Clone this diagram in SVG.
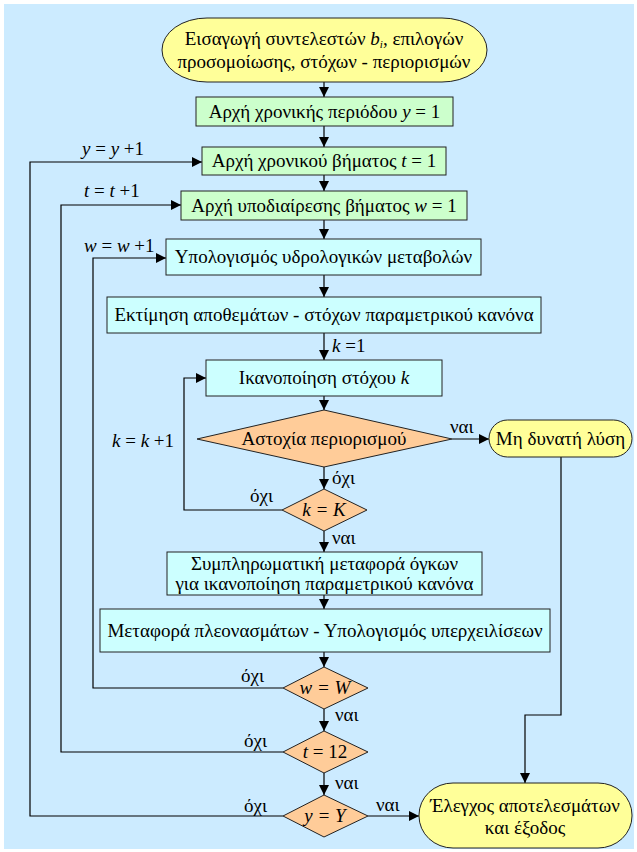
<svg xmlns="http://www.w3.org/2000/svg" width="637" height="852" viewBox="0 0 637 852" font-family="'Liberation Serif', 'Times New Roman', 'DejaVu Serif', serif">
<style>
text{font-family:'Liberation Serif','Times New Roman','DejaVu Serif',serif;font-size:19px;fill:#000}
.c{text-anchor:middle}
.i{font-style:italic}
.box{stroke:#222;stroke-width:1}
.g{fill:#CCFFCC}
.b{fill:#CCFFFF}
.y{fill:#FFFF99}
.o{fill:#FFCC99}
.ln{fill:none;stroke:#000;stroke-width:1.2}
</style>
<defs>
<marker id="ah" markerWidth="10" markerHeight="10" refX="10" refY="5" orient="auto" markerUnits="userSpaceOnUse">
<path d="M0,0 L10,5 L0,10 z" fill="#000"/>
</marker>
</defs>
<rect x="4" y="4" width="630" height="845" fill="#CCEBFF"/>
<g id="connectors">
<path class="ln" d="M324,82 V97" marker-end="url(#ah)"/>
<path class="ln" d="M324,126 V147" marker-end="url(#ah)"/>
<path class="ln" d="M324,175 V191" marker-end="url(#ah)"/>
<path class="ln" d="M324,220 V239" marker-end="url(#ah)"/>
<path class="ln" d="M324,275 V297" marker-end="url(#ah)"/>
<path class="ln" d="M324,333 V360" marker-end="url(#ah)"/>
<path class="ln" d="M324,396 V410" marker-end="url(#ah)"/>
<path class="ln" d="M452,439 H489" marker-end="url(#ah)"/>
<path class="ln" d="M324,467 V489" marker-end="url(#ah)"/>
<path class="ln" d="M282,510 H184 V378 H206" marker-end="url(#ah)"/>
<path class="ln" d="M324,531 V552" marker-end="url(#ah)"/>
<path class="ln" d="M324,595 V609" marker-end="url(#ah)"/>
<path class="ln" d="M324,652 V667" marker-end="url(#ah)"/>
<path class="ln" d="M283,688 H93 V258 H166" marker-end="url(#ah)"/>
<path class="ln" d="M324,709 V731" marker-end="url(#ah)"/>
<path class="ln" d="M283,752 H61 V205 H181" marker-end="url(#ah)"/>
<path class="ln" d="M324,773 V795" marker-end="url(#ah)"/>
<path class="ln" d="M283,816 H30 V162 H202" marker-end="url(#ah)"/>
<path class="ln" d="M368,816 H419" marker-end="url(#ah)"/>
<path class="ln" d="M561,457 V715 H525 V783" marker-end="url(#ah)"/>
<text x="82" y="155"><tspan class="i">y</tspan> = <tspan class="i">y</tspan> +1</text>
<text x="84" y="197"><tspan class="i">t</tspan> = <tspan class="i">t</tspan> +1</text>
<text x="84" y="252"><tspan class="i">w</tspan> = <tspan class="i">w</tspan> +1</text>
<text x="332" y="352"><tspan class="i">k</tspan> =1</text>
<text x="450" y="433">ναι</text>
<text x="112" y="447"><tspan class="i">k</tspan> = <tspan class="i">k</tspan> +1</text>
<text x="332" y="484">όχι</text>
<text x="250" y="502">όχι</text>
<text x="332" y="544">ναι</text>
<text x="241" y="682">όχι</text>
<text x="335" y="721">ναι</text>
<text x="244" y="747">όχι</text>
<text x="335" y="789">ναι</text>
<text x="244" y="812">όχι</text>
<text x="376" y="811">ναι</text>
</g>
<g id="start">
<rect class="box y" x="162" y="18" width="325" height="64" rx="45" ry="32"/>
<text class="c" x="324" y="45">Εισαγωγή συντελεστών <tspan class="i">b</tspan><tspan class="i" font-size="11" dy="3">i</tspan><tspan dy="-3">, επιλογών</tspan></text>
<text class="c" x="324" y="68">προσομοίωσης, στόχων - περιορισμών</text>
</g>
<g id="period">
<rect class="box g" x="196" y="97" width="257" height="29"/>
<text class="c" x="324.5" y="118">Αρχή χρονικής περιόδου <tspan class="i">y</tspan> = 1</text>
</g>
<g id="step">
<rect class="box g" x="202" y="147" width="244" height="28"/>
<text class="c" x="324" y="167">Αρχή χρονικού βήματος <tspan class="i">t</tspan> = 1</text>
</g>
<g id="substep">
<rect class="box g" x="181" y="191" width="286" height="29"/>
<text class="c" x="324" y="212">Αρχή υποδιαίρεσης βήματος <tspan class="i">w</tspan> = 1</text>
</g>
<g id="hydro">
<rect class="box b" x="166" y="239" width="315" height="36"/>
<text class="c" x="323.5" y="263">Υπολογισμός υδρολογικών μεταβολών</text>
</g>
<g id="estimate">
<rect class="box b" x="107" y="297" width="434" height="36"/>
<text class="c" x="324" y="321">Εκτίμηση αποθεμάτων - στόχων παραμετρικού κανόνα</text>
</g>
<g id="target">
<rect class="box b" x="206" y="360" width="236" height="36"/>
<text class="c" x="324" y="384">Ικανοποίηση στόχου <tspan class="i">k</tspan></text>
</g>
<g id="failure">
<polygon class="box o" points="324,410 452,439 324,467 197,439"/>
<text class="c" x="324" y="445">Αστοχία περιορισμού</text>
</g>
<g id="nosolution">
<rect class="box y" x="489" y="420" width="143" height="37" rx="18.5"/>
<text class="c" x="560.5" y="445">Μη δυνατή λύση</text>
</g>
<g id="kK">
<polygon class="box o" points="324,489 367,510 324,531 282,510"/>
<text class="c i" x="324" y="516">k = K</text>
</g>
<g id="supplement">
<rect class="box b" x="167" y="552" width="315" height="43"/>
<text class="c" x="324.5" y="570">Συμπληρωματική μεταφορά όγκων</text>
<text class="c" x="324.5" y="590">για ικανοποίηση παραμετρικού κανόνα</text>
</g>
<g id="surplus">
<rect class="box b" x="100" y="609" width="450" height="43"/>
<text class="c" x="325" y="637">Μεταφορά πλεονασμάτων - Υπολογισμός υπερχειλίσεων</text>
</g>
<g id="wW">
<polygon class="box o" points="324,667 368,688 324,709 283,688"/>
<text class="c i" x="325" y="694">w = W</text>
</g>
<g id="t12">
<polygon class="box o" points="324,731 368,752 324,773 283,752"/>
<text class="c" x="325" y="758"><tspan class="i">t</tspan> = 12</text>
</g>
<g id="yY">
<polygon class="box o" points="324,795 368,816 324,837 283,816"/>
<text class="c i" x="325" y="822">y = Y</text>
</g>
<g id="end">
<rect class="box y" x="419" y="783" width="213" height="65" rx="34" ry="32"/>
<text class="c" x="525" y="812">Έλεγχος αποτελεσμάτων</text>
<text class="c" x="525" y="834">και έξοδος</text>
</g>
</svg>
